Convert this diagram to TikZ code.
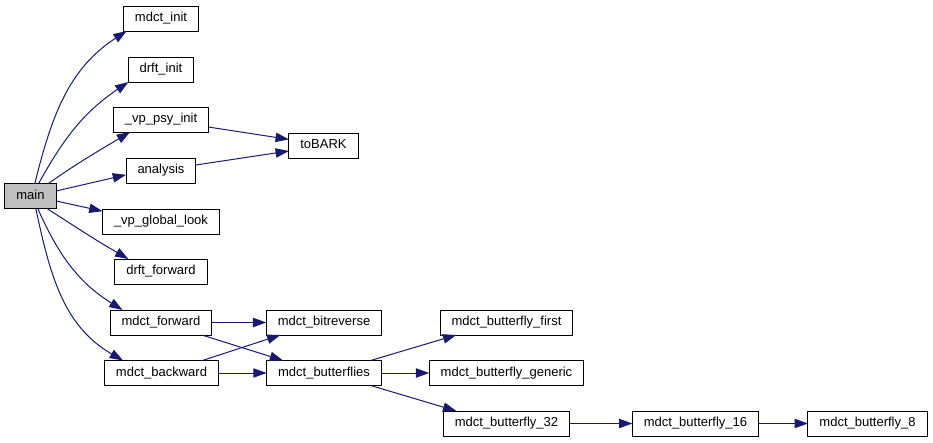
\documentclass[tikz,border=0pt]{standalone}
\usepackage{fontspec}
\setmainfont{Liberation Sans}
\usepackage{xcolor}
\usetikzlibrary{arrows.meta, positioning, calc}
\definecolor{edgeblue}{RGB}{25,25,112}
\definecolor{rootgray}{RGB}{191,191,191}

\begin{document}
\begin{tikzpicture}[x=0.75pt, y=-0.75pt,
    block/.style={rectangle, draw=black, line width=0.75pt, fill=white,
                  minimum height=18.75pt, inner xsep=8.6pt, inner ysep=0pt,
                  text height=7.5pt, text depth=2.3pt,
                  outer sep=0pt, align=center, font=\fontsize{9.75}{11}\selectfont},
    call/.style={-{Triangle[length=10pt, width=7pt]}, line width=0.75pt, draw=edgeblue}
]
\useasboundingbox (0,0) rectangle (933,443);
% caller
\node[block, fill=rootgray] (main) at (30.5,196) {main};
% first level
\node[block] (mdctinit) at (161,18.5) {mdct\_init};
\node[block] (drftinit) at (161,69.5) {drft\_init};
\node[block] (psyinit) at (161,119.5) {\_vp\_psy\_init};
\node[block] (analysis) at (161,170.5) {analysis};
\node[block] (globallook) at (161,221.5) {\_vp\_global\_look};
\node[block] (drftfwd) at (161,271.5) {drft\_forward};
\node[block] (mdctfwd) at (161,322.5) {mdct\_forward};
\node[block] (mdctbwd) at (161.5,373) {mdct\_backward};
% second level
\node[block] (tobark) at (323.5,145.5) {toBARK};
\node[block] (bitrev) at (324,322.5) {mdct\_bitreverse};
\node[block] (bflies) at (324,373) {mdct\_butterflies};
% butterflies
\node[block] (bfirst) at (506.5,322.5) {mdct\_butterfly\_first};
\node[block] (bgeneric) at (506.5,373) {mdct\_butterfly\_generic};
\node[block] (b32) at (506.5,423.5) {mdct\_butterfly\_32};
\node[block] (b16) at (695.5,423.5) {mdct\_butterfly\_16};
\node[block] (b8) at (867.5,423.5) {mdct\_butterfly\_8};
% calls from main
\draw[call] (main.71) to[out=76, in=213] (mdctinit.200);
\draw[call] (main.57) to[out=61, in=214] (drftinit.201);
\draw[call] (main.35) to[out=35, in=211] (psyinit.202);
\draw[call] (main.11) -- (analysis.187);
\draw[call] (main.-11) -- (globallook.170);
\draw[call] (main.-37) to[out=-33, in=150] (drftfwd.159);
\draw[call] (main.-60) to[out=-66, in=148] (mdctfwd.162);
\draw[call] (main.-67) to[out=-78, in=150] (mdctbwd.162);
% further calls
\draw[call] (psyinit.-9) -- (tobark.170);
\draw[call] (analysis.9) -- (tobark.189);
\draw[call] (mdctfwd) -- (bitrev);
\draw[call] (mdctfwd.-17) -- (bflies.163);
\draw[call] (mdctbwd.17) -- (bitrev.196);
\draw[call] (mdctbwd) -- (bflies);
\draw[call] (bflies.15.5) -- (bfirst.194);
\draw[call] (bflies) -- (bgeneric);
\draw[call] (bflies.-15.5) -- (b32.166);
\draw[call] (b32) -- (b16);
\draw[call] (b16) -- (b8);
\end{tikzpicture}
\end{document}
